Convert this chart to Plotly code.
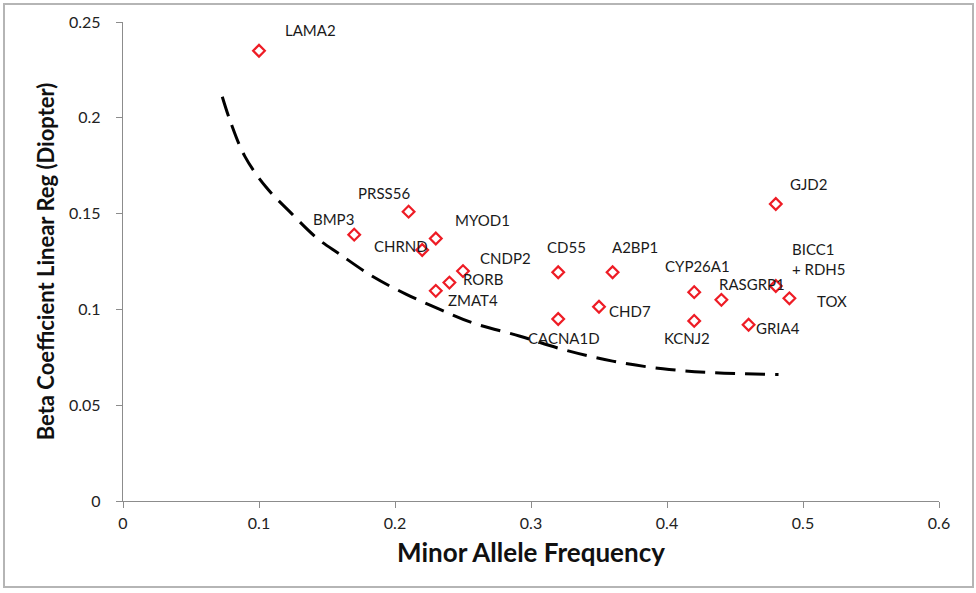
import plotly.graph_objects as go

# ---- data ----
genes = ["LAMA2", "BMP3", "PRSS56", "CHRND", "MYOD1", "CNDP2", "RORB", "ZMAT4",
         "CD55", "A2BP1", "CHD7", "CACNA1D", "CYP26A1", "RASGRP1", "KCNJ2",
         "GRIA4", "GJD2", "BICC1<br>+ RDH5", "TOX"]
maf = [0.10, 0.17, 0.21, 0.22, 0.23, 0.25, 0.24, 0.23,
       0.32, 0.36, 0.35, 0.32, 0.42, 0.44, 0.42,
       0.46, 0.48, 0.48, 0.49]
beta = [0.235, 0.139, 0.151, 0.131, 0.137, 0.120, 0.114, 0.1097,
        0.1194, 0.1194, 0.1014, 0.095, 0.109, 0.105, 0.094,
        0.092, 0.155, 0.1122, 0.1058]

# dashed threshold curve
curve_x = [0.073, 0.079, 0.0895, 0.105, 0.124, 0.143, 0.159, 0.184, 0.208,
           0.233, 0.257, 0.292, 0.324, 0.360, 0.397, 0.434, 0.482]
curve_y = [0.211, 0.198, 0.180, 0.164, 0.150, 0.137, 0.129, 0.117, 0.108,
           0.100, 0.093, 0.086, 0.079, 0.073, 0.069, 0.067, 0.066]

x_ticks = [0, 0.1, 0.2, 0.3, 0.4, 0.5, 0.6]
x_tick_labels = ["0", "0.1", "0.2", "0.3", "0.4", "0.5", "0.6"]
y_ticks = [0, 0.05, 0.1, 0.15, 0.2, 0.25]
y_tick_labels = ["0", "0.05", "0.1", "0.15", "0.2", "0.25"]

# label offsets in pixels (dx right, dy up) -- styling
label_shift = {
    "LAMA2": (51, 21), "BMP3": (-21, 16), "PRSS56": (-25, 19), "CHRND": (-21, 4),
    "MYOD1": (47, 19), "CNDP2": (42, 13), "RORB": (34, 4), "ZMAT4": (37, -9),
    "CD55": (8, 25), "A2BP1": (22, 25), "CHD7": (31, -4), "CACNA1D": (6, -19),
    "CYP26A1": (3, 26), "RASGRP1": (31, 16), "KCNJ2": (-7, -17), "GRIA4": (29, -3),
    "GJD2": (33, 20), "BICC1<br>+ RDH5": (14, 27), "TOX": (43, -3),
}

FONT = "Lato, 'Open Sans', sans-serif"

fig = go.Figure()
fig.add_trace(go.Scatter(
    x=curve_x, y=curve_y, mode="lines", line_shape="spline",
    line=dict(color="black", width=3, dash="20px,10px"),
    hoverinfo="skip", showlegend=False))
fig.add_trace(go.Scatter(
    x=maf, y=beta, mode="markers", text=genes,
    marker=dict(symbol="diamond-open", size=9, color="#ee1c25",
                line=dict(color="#ee1c25", width=2.2)),
    showlegend=False))

for g, xv, yv in zip(genes, maf, beta):
    dx, dy = label_shift[g]
    multi = "<br>" in g
    fig.add_annotation(
        x=xv, y=yv, text=g, showarrow=False,
        xshift=dx, yshift=dy,
        xanchor="left" if multi else "center",
        align="left",
        font=dict(family=FONT, size=15, color="#1a1a1a"))

axis_common = dict(
    showgrid=False, zeroline=False, showline=True, linecolor="#8c8c8c", linewidth=1.3,
    ticks="outside", ticklen=6, tickcolor="#8c8c8c", tickwidth=1.3,
    tickfont=dict(family=FONT, size=16, color="#222"),
)

fig.update_xaxes(
    range=[0, 0.6], tickvals=x_ticks, ticktext=x_tick_labels,
    title=dict(text="<b>Minor Allele Frequency</b>", standoff=12,
               font=dict(family=FONT, size=26, color="#111")),
    ticklabelstandoff=2,
    **axis_common)
fig.update_yaxes(
    range=[0, 0.25], tickvals=y_ticks, ticktext=y_tick_labels,
    title=dict(text="<b>Beta Coefficient Linear Reg (Diopter)</b>", standoff=8,
               font=dict(family=FONT, size=22, color="#111")),
    ticklabelstandoff=12,
    **axis_common)

# outer light border
fig.add_shape(type="rect", xref="paper", yref="paper",
              x0=(4 - 123) / 816, x1=(973 - 123) / 816,
              y0=(501 - 587) / 479, y1=(501 - 4) / 479,
              line=dict(color="#b5b5b5", width=2), layer="below")

fig.update_layout(
    width=976, height=593,
    margin=dict(l=123, r=37, t=22, b=92),
    plot_bgcolor="white", paper_bgcolor="white",
    font=dict(family=FONT),
)

fig.write_html("out.html")
